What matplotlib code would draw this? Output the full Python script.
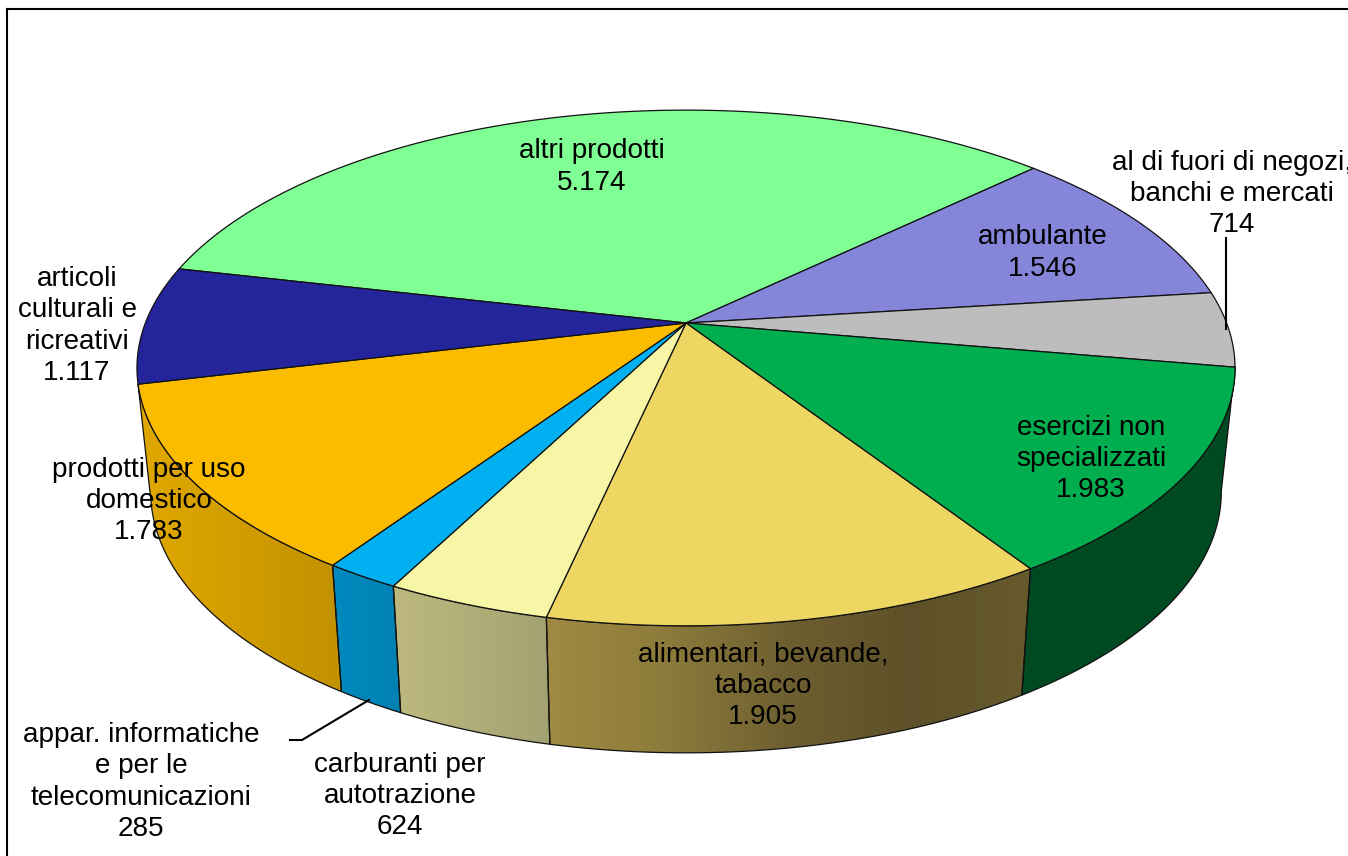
import numpy as np
import matplotlib
matplotlib.use('Agg')
import matplotlib.pyplot as plt
from matplotlib.colors import LinearSegmentedColormap
from matplotlib.patches import Polygon

# valori, in senso orario a partire da "altri prodotti"
categories = ['altri prodotti', 'ambulante', 'al di fuori di negozi,\nbanchi e mercati',
              'esercizi non\nspecializzati', 'alimentari, bevande,\ntabacco',
              'carburanti per\nautotrazione', 'appar. informatiche\ne per le\ntelecomunicazioni',
              'prodotti per uso\ndomestico', 'articoli\nculturali e\nricreativi']
values = [5174, 1546, 714, 1983, 1905, 624, 285, 1783, 1117]
value_labels = ['5.174', '1.546', '714', '1.983', '1.905', '624', '285', '1.783', '1.117']

top_colors = ['#80FF95', '#8585DA', '#BDBDBD', '#00AE50', '#EED662',
              '#F6F6A6', '#00B0F0', '#FBBC00', '#24249B']
# gradienti del bordo (None = fetta senza parete visibile)
wall_colors = [None, None, None,
               ['#004A22', '#004A22'],
               ['#A18A42', '#8C7B3B', '#6E5F31', '#5E5129', '#665A2D'],
               ['#BDB97E', '#A3A272'],
               ['#008ABF', '#0082B2'],
               ['#E0A800', '#C29100'],
               None]
label_pos = [(592, 167), (1043, 253), (1232, 194), (1091, 459), (763, 686),
             (400, 796), (141, 782), (149, 501), (77, 326)]

start_angle = -77.0
cx, cy = 686, 323
rx, ry, persp = 540.6, 250.0, 0.1744
base_sx, base_sy, base_y = 0.975, 1.0116, 446.5

plt.rcParams['font.family'] = ['Liberation Sans', 'DejaVu Sans']

fig = plt.figure(figsize=(13.48, 8.56), dpi=100)
ax = fig.add_axes([0, 0, 1, 1])


def rim(a_deg):
    # proiezione prospettica del cerchio superiore
    a = np.radians(a_deg)
    u, v = np.sin(a), -np.cos(a)
    w = 1 - persp * v
    return rx * u / w, ry * v / w


def top_pts(a_deg):
    x, y = rim(a_deg)
    return np.column_stack([cx + x, cy + y])


def bottom_pts(a_deg):
    x, y = rim(a_deg)
    return np.column_stack([cx + x * base_sx, base_y + y * base_sy])


edges = start_angle + np.concatenate([[0], np.cumsum(values)]) / np.sum(values) * 360

# pareti
for i in range(len(values)):
    if wall_colors[i] is None:
        continue
    a = np.linspace(edges[i], edges[i + 1], 80)
    pts = np.vstack([top_pts(a), bottom_pts(a)[::-1]])
    cmap = LinearSegmentedColormap.from_list('w%d' % i, wall_colors[i])
    im = ax.imshow(np.linspace(0, 1, 256).reshape(1, -1), cmap=cmap, aspect='auto',
                   extent=[pts[:, 0].min(), pts[:, 0].max(), pts[:, 1].max(), pts[:, 1].min()],
                   interpolation='bilinear', zorder=1)
    poly = Polygon(pts, closed=True, fc='none', ec='#111111', lw=0.9, zorder=2)
    ax.add_patch(poly)
    im.set_clip_path(poly)

# fette superiori
for i in range(len(values)):
    a = np.linspace(edges[i], edges[i + 1], 120)
    pts = np.vstack([[cx, cy], top_pts(a)])
    ax.add_patch(Polygon(pts, closed=True, fc=top_colors[i], ec='#111111', lw=0.9,
                         joinstyle='round', zorder=3))

# linee guida
ax.plot([1226, 1226], [238, 329], color='black', lw=1.5, zorder=4)
ax.plot([290, 302, 369], [740, 740, 700], color='black', lw=1.5, zorder=4)

for name, val, (x, y) in zip(categories, value_labels, label_pos):
    ax.text(x, y, name + '\n' + val, ha='center', va='center', fontsize=20.1,
            linespacing=1.27, color='black', zorder=5)

# cornice
ax.plot([7, 7], [856, 9], color='black', lw=1.5, solid_capstyle='projecting', zorder=6)
ax.plot([7, 1348], [9, 9], color='black', lw=1.5, solid_capstyle='projecting', zorder=6)

ax.set_xlim(0, 1348)
ax.set_ylim(856, 0)
ax.axis('off')
fig.savefig('out.png', dpi=100)
